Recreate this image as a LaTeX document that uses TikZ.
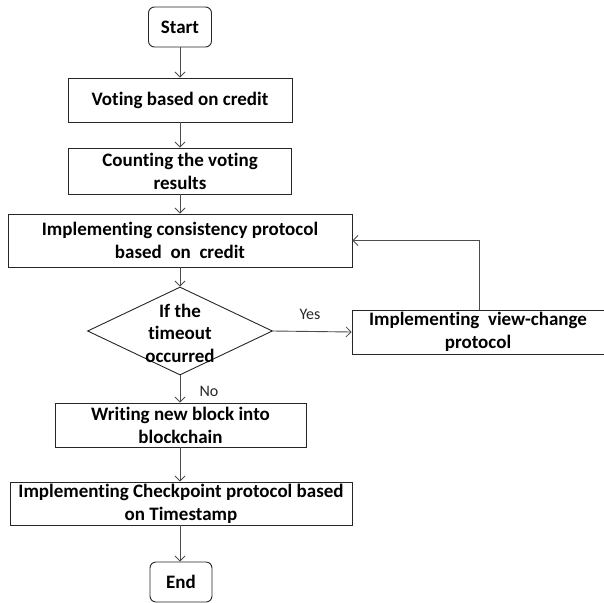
\documentclass[tikz,border=0pt]{standalone}
\usepackage{fontspec}
\setmainfont{Carlito}[Ligatures={NoCommon}]
\usetikzlibrary{shapes.geometric,arrows.meta}
\begin{document}
\begin{tikzpicture}[x=1pt,y=-1pt,
  box/.style={draw=black!85, line width=0.9pt, inner sep=1pt, align=center,
    font=\fontsize{19}{23}\selectfont\bfseries},
  term/.style={box, rounded corners=6pt},
  flow/.style={draw=black!70, line width=0.9pt, -{Straight Barb[length=5pt,width=10pt,line width=0.8pt]}},
  lab/.style={font=\fontsize{16}{18}\selectfont, text=black!85}]
\useasboundingbox (0,0) rectangle (604,602);
\node[term, minimum width=63pt, minimum height=40pt] (start) at (180,27) {Start};
\node[box, minimum width=224pt, minimum height=44pt] (vote) at (180,100) {Voting based on credit};
\node[box, minimum width=223pt, minimum height=46pt] (count) at (180,171) {Counting the voting\\results};
\node[box, minimum width=344pt, minimum height=53pt] (cons) at (180,240.5) {Implementing consistency protocol\\based~~on~~credit};
\node[draw=black!85, line width=0.9pt, diamond, minimum width=185pt, minimum height=88pt, inner sep=0pt] (dec) at (180,331) {};
\node[align=center, font=\fontsize{19}{22.5}\selectfont\bfseries] (dectext) at (180,333) {If the\\timeout\\occurred};
\node[box, minimum width=252pt, minimum height=44pt] (view) at (478,332) {Implementing~~view-change\\protocol};
\node[box, minimum width=251pt, minimum height=44pt] (write) at (180.5,425) {Writing new block into\\blockchain};
\node[box, minimum width=342pt, minimum height=43pt] (check) at (181,503.5) {Implementing Checkpoint protocol based\\on Timestamp};
\node[term, minimum width=62pt, minimum height=40pt] (end) at (181,582) {End};
\draw[flow] (start) -- (vote);
\draw[flow] (vote) -- (count);
\draw[flow] (count) -- (cons);
\draw[flow] (cons.south -| dec.north) -- (dec.north);
\draw[flow] (dec.east) -- (view.west);
\draw[flow] (view.north -| 479,0) |- (cons.east);
\draw[flow] (dec.south) -- (dec.south |- write.north);
\draw[flow] (write.south -| 180,0) -- (check.north -| 180,0);
\draw[flow] (check.south -| 180,0) -- (end.north -| 180,0);
\node[lab] (yes) at (310,314) {Yes};
\node[lab] (no) at (209,391) {No};
\end{tikzpicture}
\end{document}
